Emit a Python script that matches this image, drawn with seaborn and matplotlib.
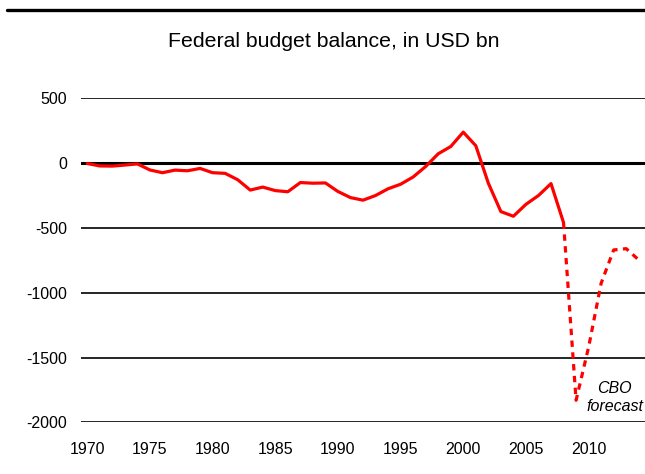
import numpy as np
import pandas as pd
import matplotlib
matplotlib.use('Agg')
import matplotlib.pyplot as plt
import seaborn as sns

# actual balance, USD bn
years_actual = list(range(1970, 2009))
balance_actual = [-3, -22, -23, -15, -6, -53, -74, -54, -59, -41,
                  -74, -79, -128, -208, -185, -212, -221, -150, -155, -153,
                  -219, -266, -286, -250, -198, -163, -107, -26, 72, 128,
                  239, 134, -155, -374, -410, -318, -250, -158, -459]
# CBO forecast
years_fc = [2008, 2009, 2010, 2011, 2012, 2013, 2014]
balance_fc = [-459, -1830, -1420, -927, -670, -660, -747]

yticks = [500, 0, -500, -1000, -1500, -2000]
xticks = [1970, 1975, 1980, 1985, 1990, 1995, 2000, 2005, 2010]

sns.set_style('white')
plt.rcParams['font.family'] = ['Liberation Sans', 'DejaVu Sans']
plt.rcParams['axes.unicode_minus'] = False
plt.rcParams['text.color'] = 'black'
plt.rcParams['xtick.color'] = 'black'
plt.rcParams['ytick.color'] = 'black'

fig = plt.figure(figsize=(6.45, 4.74), dpi=100)
ax = fig.add_axes([0.1256, 0.109, 0.8744, 0.6836])

df_a = pd.DataFrame({'year': years_actual, 'bal': balance_actual})
df_f = pd.DataFrame({'year': years_fc, 'bal': balance_fc})

for y in yticks:
    ax.axhline(y, color='black', lw=2.2 if y == 0 else 1.2, zorder=1)

sns.lineplot(data=df_a, x='year', y='bal', ax=ax, color='#ff0000', lw=2.3, zorder=3)
sns.lineplot(data=df_f, x='year', y='bal', ax=ax, color='#ff0000', lw=2.3,
             linestyle=(0, (2.0, 1.7)), zorder=3)

ax.set_xlim(1969.5, 2014.5)
ax.set_ylim(-2000, 500)
ax.set_yticks(yticks)
ax.set_xticks(xticks)
ax.set_xlabel('')
ax.set_ylabel('')
ax.tick_params(axis='y', length=0, pad=10, labelsize=11.5, labelcolor='black')
ax.tick_params(axis='x', length=0, pad=14, labelsize=11.5, labelcolor='black')
for s in ax.spines.values():
    s.set_visible(False)

ax.text(2012.1, -1808, 'CBO\nforecast', style='italic', fontsize=11.5,
        ha='center', va='center', linespacing=1.3, color='black')

fig.text(0.518, 0.912, 'Federal budget balance, in USD bn', ha='center', va='center',
         fontsize=15.3, color='black')
fig.add_artist(plt.Line2D([0.011, 1.0], [0.979, 0.979], color='black', lw=2.4,
                          transform=fig.transFigure))

fig.savefig('out.png', dpi=100)
